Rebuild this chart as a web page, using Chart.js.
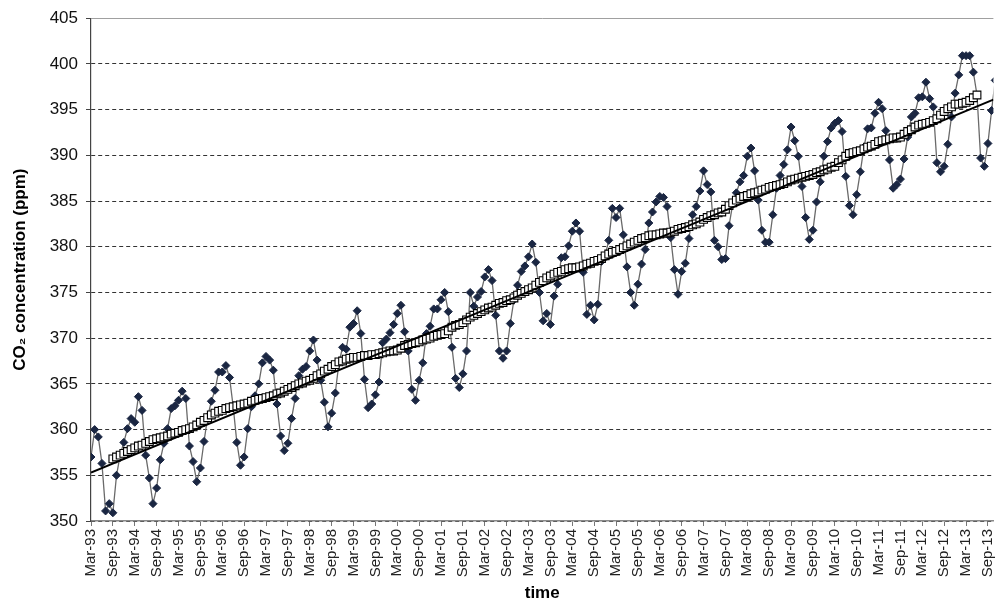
<!DOCTYPE html>
<html>
<head>
<meta charset="utf-8">
<script src="https://cdn.jsdelivr.net/npm/chart.js@4"></script>
<style>
  html, body { margin: 0; padding: 0; background: #fff; overflow: hidden; }
</style>
</head>
<body>
<canvas id="co2Chart" width="1000" height="604"></canvas>
<script>
// x axis labels, one every 6 months (month index 0 = Mar-93)
const tickLabels = [
    "Mar-93", "Sep-93", "Mar-94", "Sep-94", "Mar-95", "Sep-95", "Mar-96", "Sep-96",
    "Mar-97", "Sep-97", "Mar-98", "Sep-98", "Mar-99", "Sep-99", "Mar-00", "Sep-00",
    "Mar-01", "Sep-01", "Mar-02", "Sep-02", "Mar-03", "Sep-03", "Mar-04", "Sep-04",
    "Mar-05", "Sep-05", "Mar-06", "Sep-06", "Mar-07", "Sep-07", "Mar-08", "Sep-08",
    "Mar-09", "Sep-09", "Mar-10", "Sep-10", "Mar-11", "Sep-11", "Mar-12", "Sep-12",
    "Mar-13", "Sep-13"
];

// monthly CO2 (ppm), Mar-93 onwards, one row per year Mar..Feb
const co2Monthly = [
    357.0, 360.0, 359.2, 356.3, 351.1, 351.9, 350.9, 355.0, 357.2, 358.6, 360.1, 361.2,
    360.8, 363.6, 362.1, 357.2, 354.7, 351.9, 353.6, 356.7, 358.5, 360.1, 362.3, 362.6,
    363.2, 364.2, 363.4, 358.2, 356.5, 354.3, 355.8, 358.7, 361.4, 363.1, 364.3, 366.3,
    366.3, 367.0, 365.7, 362.5, 358.6, 356.1, 357.0, 360.1, 362.5, 363.7, 365.0, 367.3,
    368.0, 367.6, 366.5, 362.8, 359.3, 357.7, 358.5, 361.2, 363.4, 365.9, 366.6, 366.9,
    368.6, 369.8, 367.6, 365.4, 363.0, 360.3, 361.8, 364.0, 367.3, 369.0, 368.8, 371.2,
    371.6, 373.0, 370.5, 365.5, 362.4, 362.8, 363.8, 365.2, 369.5, 369.9, 370.6, 371.5,
    372.7, 373.6, 370.7, 368.6, 364.4, 363.2, 365.4, 367.3, 370.5, 371.3, 373.2, 373.2,
    374.2, 375.0, 372.9, 369.0, 365.6, 364.6, 366.1, 368.6, 375.0, 373.5, 374.5, 375.1,
    376.7, 377.5, 376.3, 372.5, 368.6, 367.8, 368.6, 371.6, 374.2, 375.8, 377.3, 377.9,
    378.9, 380.3, 378.3, 375.0, 371.9, 372.7, 371.5, 374.6, 375.9, 378.8, 378.9, 380.1,
    381.7, 382.6, 381.7, 377.2, 372.6, 373.6, 372.0, 373.7, 378.4, 379.0, 380.7, 384.2,
    383.2, 384.2, 381.3, 377.8, 375.0, 373.6, 375.9, 378.1, 379.7, 382.6, 383.8, 384.9,
    385.5, 385.4, 384.4, 381.0, 377.5, 374.8, 377.3, 378.2, 380.9, 383.5, 384.4, 386.1,
    388.3, 386.8, 386.0, 380.7, 380.0, 378.6, 378.7, 382.3, 384.7, 385.9, 387.1, 387.8,
    389.9, 390.8, 388.3, 385.1, 381.8, 380.5, 380.5, 383.5, 386.4, 387.8, 389.0, 390.6,
    393.1, 391.6, 389.9, 386.6, 383.2, 380.8, 381.8, 384.9, 387.1, 389.9, 391.5, 393.0,
    393.5, 393.8, 392.6, 387.7, 384.5, 383.5, 385.7, 388.2, 390.9, 392.9, 393.0, 394.6,
    395.8, 395.1, 392.7, 389.5, 386.4, 386.8, 387.4, 389.6, 392.0, 394.2, 394.6, 396.3,
    396.4, 398.0, 396.2, 395.3, 389.2, 388.2, 388.8, 391.2, 394.2, 396.8, 398.8, 400.9,
    400.9, 400.9, 399.1, 396.6, 389.7, 388.8, 391.3, 394.9, 398.2
];

// 12-month running mean, starts at Sep-93 (month index 6)
const avgStart = 6;
const co2Average = [
                                      356.8, 357.0, 357.2, 357.4, 357.6, 357.8,
    358.0, 358.2, 358.3, 358.5, 358.7, 358.9, 359.0, 359.1, 359.2, 359.3, 359.5, 359.6,
    359.7, 359.9, 360.0, 360.1, 360.3, 360.5, 360.8, 361.0, 361.3, 361.6, 361.8, 362.0,
    362.1, 362.3, 362.4, 362.5, 362.6, 362.7, 362.8, 362.9, 363.1, 363.2, 363.3, 363.4,
    363.5, 363.6, 363.7, 363.9, 364.0, 364.2, 364.4, 364.6, 364.8, 365.0, 365.1, 365.3,
    365.4, 365.6, 365.9, 366.1, 366.4, 366.6, 366.9, 367.1, 367.4, 367.5, 367.7, 367.8,
    367.9, 367.9, 368.0, 368.1, 368.1, 368.2, 368.2, 368.3, 368.4, 368.5, 368.6, 368.6,
    368.7, 368.9, 369.2, 369.3, 369.4, 369.5, 369.6, 369.8, 369.9, 370.0, 370.2, 370.3,
    370.4, 370.5, 370.8, 371.2, 371.4, 371.5, 371.7, 372.0, 372.3, 372.5, 372.7, 372.9,
    373.1, 373.3, 373.4, 373.6, 373.8, 373.9, 374.1, 374.2, 374.4, 374.7, 374.9, 375.1,
    375.3, 375.5, 375.8, 376.1, 376.3, 376.6, 376.8, 377.0, 377.2, 377.3, 377.5, 377.6,
    377.7, 377.7, 377.8, 377.9, 378.1, 378.2, 378.4, 378.5, 378.7, 379.0, 379.2, 379.4,
    379.5, 379.7, 379.9, 380.1, 380.3, 380.5, 380.7, 380.9, 381.0, 381.2, 381.3, 381.3,
    381.4, 381.5, 381.5, 381.6, 381.7, 381.9, 382.0, 382.1, 382.2, 382.4, 382.5, 382.7,
    383.0, 383.2, 383.4, 383.5, 383.7, 383.8, 384.1, 384.5, 384.8, 385.1, 385.3, 385.5,
    385.6, 385.8, 385.9, 386.0, 386.2, 386.3, 386.5, 386.6, 386.7, 386.8, 386.9, 387.1,
    387.3, 387.4, 387.5, 387.6, 387.7, 387.8, 387.9, 388.1, 388.2, 388.4, 388.5, 388.7,
    388.8, 389.2, 389.5, 389.9, 390.2, 390.3, 390.4, 390.5, 390.7, 390.9, 391.0, 391.2,
    391.5, 391.6, 391.7, 391.8, 391.9, 391.9, 392.0, 392.3, 392.6, 392.8, 393.1, 393.3,
    393.4, 393.5, 393.6, 393.8, 394.0, 394.4, 394.8, 395.1, 395.3, 395.6, 395.6, 395.7,
    395.8, 396.0, 396.3, 396.6
];

// linear trend, end points (month index, ppm)
const fitMonths = [0, 247.5];
const fitValues = [355.3, 396.1];

const monthlyPts = co2Monthly.map((v, i) => ({ x: i, y: v }));
const averagePts = co2Average.map((v, i) => ({ x: i + avgStart, y: v }));
const fitPts = fitMonths.map((m, i) => ({ x: m, y: fitValues[i] }));

Chart.defaults.font.family = "'Liberation Sans', Arial, sans-serif";
Chart.defaults.color = "#000";

const ctx = document.getElementById('co2Chart');

new Chart(ctx, {
    type: 'line',
    data: {
        datasets: [
            {
                // trend line (drawn on top)
                data: fitPts,
                borderColor: '#000',
                borderWidth: 2,
                pointRadius: 0,
                fill: false
            },
            {
                data: averagePts,
                showLine: false,
                pointStyle: 'rect',
                pointRadius: 5.5,
                pointBackgroundColor: '#fff',
                pointBorderColor: '#000',
                pointBorderWidth: 1.1
            },
            {
                data: monthlyPts,
                borderColor: '#6a6a6a',
                borderWidth: 1.3,
                tension: 0,
                pointStyle: 'rectRot',
                pointRadius: 4,
                pointBackgroundColor: '#1a2642',
                pointBorderColor: '#1a2642',
                pointBorderWidth: 1
            }
        ]
    },
    options: {
        responsive: false,
        animation: false,
        layout: { padding: { top: 18, left: 4, right: 0, bottom: 0 } },
        plugins: {
            legend: { display: false },
            tooltip: { enabled: false }
        },
        scales: {
            x: {
                type: 'linear',
                min: 0,
                max: 247.5,
                afterBuildTicks: (scale) => {
                    scale.ticks = tickLabels.map((_, k) => ({ value: k * 6 }));
                },
                afterFit: (scale) => {
                    scale.height = 83;
                    scale.paddingRight = 0;
                },
                ticks: {
                    autoSkip: false,
                    maxRotation: 90,
                    minRotation: 90,
                    padding: 3,
                    font: { size: 15 },
                    color: '#222',
                    callback: (v) => tickLabels[v / 6] || ''
                },
                grid: {
                    drawOnChartArea: false,
                    drawTicks: true,
                    tickLength: 5,
                    color: '#777'
                },
                border: { color: '#8a8a8a', width: 1.5 },
                title: {
                    display: true,
                    text: 'time',
                    font: { size: 17, weight: 'bold' },
                    padding: { top: 0, bottom: 0 }
                }
            },
            y: {
                min: 350,
                max: 405,
                afterFit: (scale) => { scale.width = 87; },
                ticks: {
                    stepSize: 5,
                    padding: 8,
                    font: { size: 17 },
                    color: '#111'
                },
                grid: {
                    color: (c) => (c.tick && c.tick.value === 405) ? '#a0a0a0' : '#333',
                    tickColor: '#444',
                    tickLength: 5,
                    lineWidth: 1
                },
                border: {
                    color: '#444',
                    width: 1.2,
                    dash: (c) => (c.tick && c.tick.value === 405) ? [] : [4, 3]
                },
                title: {
                    display: true,
                    text: 'CO\u2082 concentration (ppm)',
                    font: { size: 17, weight: 'bold' },
                    padding: { top: 6, bottom: 0 }
                }
            }
        }
    }
});
</script>
</body>
</html>
